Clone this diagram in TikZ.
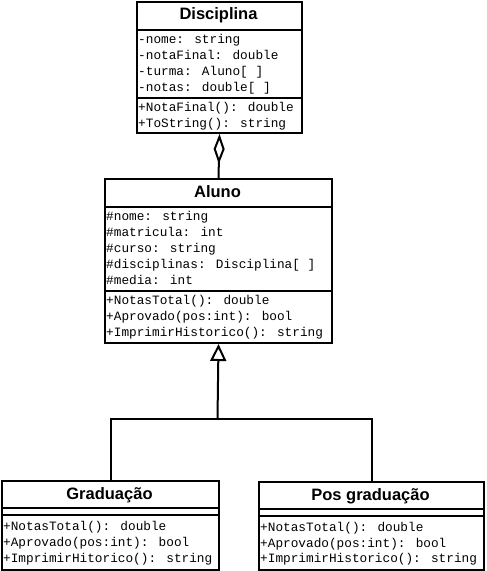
\documentclass[tikz,border=0pt]{standalone}
\usepackage{fontspec}
\newfontfamily\umlmono{Liberation Mono}
\newfontfamily\umlsans{Liberation Sans}
\usetikzlibrary{arrows.meta}
\tikzset{
  umlbox/.style={draw, line width=2pt, anchor=north west, inner sep=0pt, fill=white},
  sepline/.style={line width=2pt},
  member/.style={anchor=west, inner sep=0pt, font=\umlmono\fontsize{12.75}{16}\selectfont, text height=9pt, text depth=3pt},
  umltitle/.style={font=\umlsans\bfseries\fontsize{16.5}{19}\selectfont, inner sep=0pt},
  conn/.style={line width=2pt},
}
\begin{document}
\begin{tikzpicture}[x=1pt,y=-1pt]
\useasboundingbox[fill=white] (0,0) rectangle (487,571);
% boxes
\node[umlbox, minimum width=165pt, minimum height=131pt] (disc) at (136,1) {};
\node[umlbox, minimum width=227pt, minimum height=164pt] (aluno) at (104,178) {};
\node[umlbox, minimum width=217pt, minimum height=89pt] (grad) at (1,480) {};
\node[umlbox, minimum width=225pt, minimum height=88pt] (pos) at (258,481) {};
% separators
\draw[sepline] (disc.west |- 0,30) -- (disc.east |- 0,30);
\draw[sepline] (disc.west |- 0,98) -- (disc.east |- 0,98);
\draw[sepline] (aluno.west |- 0,207) -- (aluno.east |- 0,207);
\draw[sepline] (aluno.west |- 0,291) -- (aluno.east |- 0,291);
\draw[sepline] (grad.west |- 0,508) -- (grad.east |- 0,508);
\draw[sepline] (grad.west |- 0,515) -- (grad.east |- 0,515);
\draw[sepline] (pos.west |- 0,509) -- (pos.east |- 0,509);
\draw[sepline] (pos.west |- 0,516) -- (pos.east |- 0,516);
% titles
\node[umltitle] (tdisc) at (218.5,15) {Disciplina};
\node[umltitle] (taluno) at (217.5,192) {Aluno};
\node[umltitle] (tgrad) at (109.5,495) {Graduação};
\node[umltitle] (tpos) at (370.5,496) {Pos graduação};
% Disciplina members
\node[member] (d1) at (138,40) {-nome: string};
\node[member] (d2) at (138,56) {-notaFinal: double};
\node[member] (d3) at (138,72) {-turma: Aluno[ ]};
\node[member] (d4) at (138,88) {-notas: double[ ]};
\node[member] (d5) at (138,108) {+NotaFinal(): double};
\node[member] (d6) at (138,124) {+ToString(): string};
% Aluno members
\node[member] (a1) at (106,217) {\#nome: string};
\node[member] (a2) at (106,233) {\#matricula: int};
\node[member] (a3) at (106,249) {\#curso: string};
\node[member] (a4) at (106,265) {\#disciplinas: Disciplina[ ]};
\node[member] (a5) at (106,281) {\#media: int};
\node[member] (a6) at (106,301) {+NotasTotal(): double};
\node[member] (a7) at (106,317) {+Aprovado(pos:int): bool};
\node[member] (a8) at (106,333) {+ImprimirHistorico(): string};
% Graduacao members
\node[member] (g1) at (3,527) {+NotasTotal(): double};
\node[member] (g2) at (3,543) {+Aprovado(pos:int): bool};
\node[member] (g3) at (3,559) {+ImprimirHitorico(): string};
% Pos graduacao members
\node[member] (p1) at (260,528) {+NotasTotal(): double};
\node[member] (p2) at (260,544) {+Aprovado(pos:int): bool};
\node[member] (p3) at (260,559) {+ImprimirHistorico(): string};
% connectors
\draw[conn, {Diamond[open, length=30pt, width=11pt]}-] (disc.south) -- (aluno.north);
\coordinate (j) at (217.5,419);
\draw[conn, {Triangle[open, length=17pt, width=16pt]}-] (aluno.south) -- (j);
\draw[conn] (grad.north) -- (grad.north |- j) -- (pos.north |- j) -- (pos.north);
\end{tikzpicture}
\end{document}
